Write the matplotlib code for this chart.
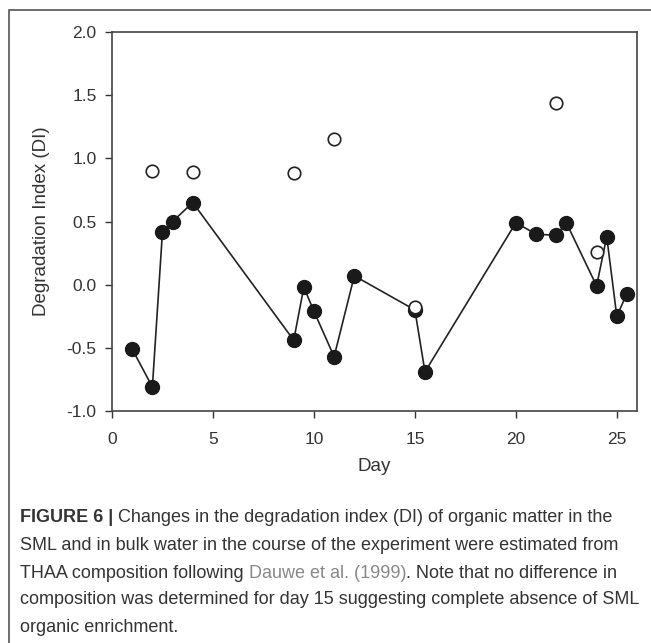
import matplotlib
matplotlib.use('Agg')
import matplotlib.pyplot as plt
from matplotlib.patches import Rectangle

plt.rcParams['font.family'] = ['Liberation Sans', 'DejaVu Sans']

# Bulk water (filled circles, connected)
bulk_day = [1, 2, 2.5, 3, 4, 9, 9.5, 10, 11, 12, 15, 15.5, 20, 21, 22, 22.5, 24, 24.5, 25, 25.5]
bulk_di = [-0.51, -0.81, 0.42, 0.50, 0.65, -0.44, -0.02, -0.21, -0.57, 0.07,
           -0.20, -0.69, 0.49, 0.40, 0.39, 0.49, -0.01, 0.38, -0.25, -0.07]

# SML (open circles)
sml_day = [2, 4, 9, 11, 15, 22, 24]
sml_di = [0.90, 0.89, 0.88, 1.155, -0.175, 1.44, 0.26]

x_ticks = [0, 5, 10, 15, 20, 25]
y_ticks = [-1.0, -0.5, 0.0, 0.5, 1.0, 1.5, 2.0]

W, H = 651, 643
fig = plt.figure(figsize=(W / 100, H / 100), dpi=100)
ax = fig.add_axes([112 / W, 1 - 411 / H, (637 - 112) / W, (411 - 32) / H])

ax.plot(bulk_day, bulk_di, color='#222222', lw=1.2, marker='o', ms=10,
        mfc='#1a1a1a', mec='#1a1a1a', zorder=3)
ax.plot(sml_day, sml_di, ls='none', marker='o', ms=9, mfc='white',
        mec='#222222', mew=1.2, zorder=4)

ax.set_xlim(0, 26)
ax.set_ylim(-1.0, 2.0)
ax.set_xticks(x_ticks)
ax.set_yticks(y_ticks)
ax.set_yticklabels(['%.1f' % v for v in y_ticks])
ax.tick_params(direction='out', length=5, width=1, colors='#333333',
               labelsize=12.5)
ax.tick_params(axis='y', pad=6)
ax.tick_params(axis='x', pad=10)
for s in ax.spines.values():
    s.set_color('#444444')
    s.set_linewidth(1.2)
ax.set_xlabel('Day', fontsize=13.5, color='#333333', labelpad=8)
ax.set_ylabel('Degradation Index (DI)', fontsize=13.5, color='#333333', labelpad=12)

# outer frame of the figure panel
fig.patches.append(Rectangle((9 / W, -0.1), 1.2, 1 - 10 / H + 0.1,
                             transform=fig.transFigure, fill=False,
                             ec='#555555', lw=1.2))

# caption
cap_color = '#333333'
fs = 13
x0 = 20 / W
t1 = fig.text(x0, 1 - 518 / H, 'FIGURE 6 |', fontsize=fs, fontweight='bold',
              color=cap_color, va='center')
ax.annotate(' Changes in the degradation index (DI) of organic matter in the',
            xy=(1, 0), xycoords=t1, va='bottom', fontsize=fs, color=cap_color,
            annotation_clip=False)
fig.text(x0, 1 - 546 / H,
         'SML and in bulk water in the course of the experiment were estimated from',
         fontsize=fs, color=cap_color, va='center')
t3 = fig.text(x0, 1 - 573 / H, 'THAA composition following ', fontsize=fs,
              color=cap_color, va='center')
t4 = ax.annotate('Dauwe et al. (1999)', xy=(1, 0), xycoords=t3, va='bottom',
                 fontsize=fs, color='#888888', annotation_clip=False)
ax.annotate('. Note that no difference in', xy=(1, 0), xycoords=t4, va='bottom',
            fontsize=fs, color=cap_color, annotation_clip=False)
fig.text(x0, 1 - 600 / H,
         'composition was determined for day 15 suggesting complete absence of SML',
         fontsize=fs, color=cap_color, va='center')
fig.text(x0, 1 - 627 / H, 'organic enrichment.', fontsize=fs, color=cap_color,
         va='center')

fig.savefig('out.png', dpi=100)
